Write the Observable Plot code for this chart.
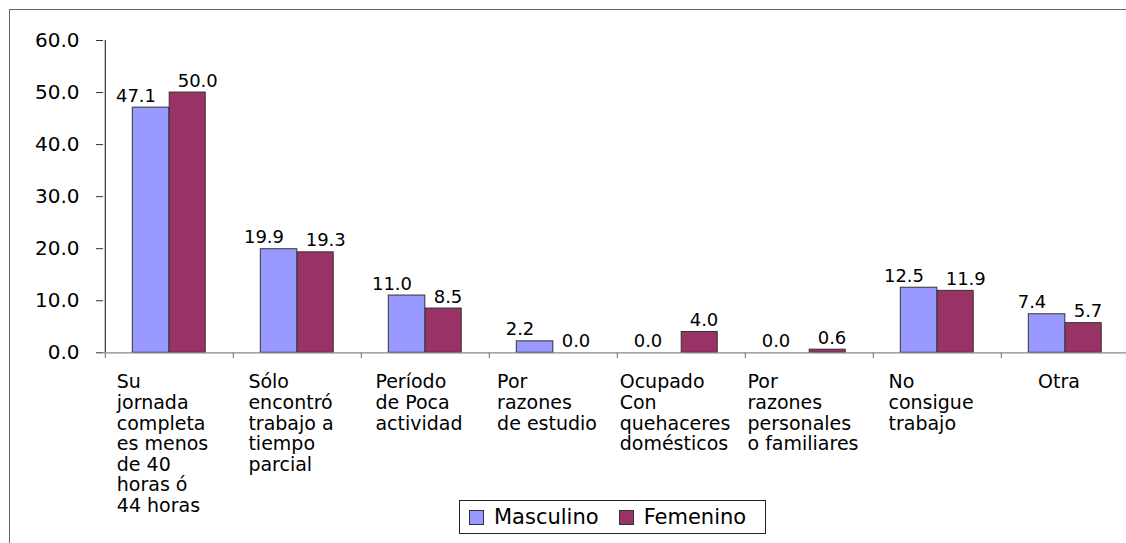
<!DOCTYPE html>
<html>
<head>
<meta charset="utf-8">
<script src="https://cdn.jsdelivr.net/npm/d3@7"></script>
<script src="https://cdn.jsdelivr.net/npm/@observablehq/plot@0.6"></script>
<style>
  html, body { margin: 0; padding: 0; background: #fff; overflow: hidden; }
  #wrap { position: relative; width: 1126px; height: 543px; overflow: hidden; font-family: "DejaVu Sans", sans-serif; }
  #frame { position: absolute; left: 9px; top: 9px; width: 1300px; height: 700px; border: 1px solid #666; pointer-events: none; }
  #legend { position: absolute; left: 459px; top: 500px; width: 305px; height: 32px; border: 1.5px solid #222; background: #fff;
            display: flex; align-items: center; font-size: 21px; color: #000; box-sizing: content-box; }
  #legend .item { display: flex; align-items: center; margin-left: 9px; margin-right: 11px; }
  #legend .sw { display: inline-block; width: 13px; height: 13px; border: 1px solid #333; margin-right: 10px; }
</style>
</head>
<body>
<div id="wrap">
  <div id="chart"></div>
  <div id="legend"></div>
  <div id="frame"></div>
</div>
<script>
// ---- data ----
const categories = [
  "Su\njornada\ncompleta\nes menos\nde 40\nhoras ó\n44 horas",
  "Sólo\nencontró\ntrabajo a\ntiempo\nparcial",
  "Período\nde Poca\nactividad",
  "Por\nrazones\nde estudio",
  "Ocupado\nCon\nquehaceres\ndomésticos",
  "Por\nrazones\npersonales\no familiares",
  "No\nconsigue\ntrabajo",
  "Otra"
];
const masculino = [47.1, 19.9, 11.0, 2.2, 0.0, 0.0, 12.5, 7.4];
const femenino  = [50.0, 19.3, 8.5, 0.0, 4.0, 0.6, 11.9, 5.7];
const seriesNames = ["Masculino", "Femenino"];
const seriesColors = ["#9999FF", "#993366"];
const yTicks = [0, 10, 20, 30, 40, 50, 60];

// ---- build ----
const mData = categories.map((c, i) => ({cat: c, value: masculino[i]}));
const fData = categories.map((c, i) => ({cat: c, value: femenino[i]}));
const fmt = d3.format(".1f");

const W = 1130, H = 543, mL = 103, mT = 40, y0px = 352.3;
const band = (W - mL) / categories.length;

const chart = Plot.plot({
  width: W,
  height: H,
  marginLeft: mL,
  marginRight: 0,
  marginTop: mT,
  marginBottom: H - y0px,
  style: {fontFamily: "DejaVu Sans", fontSize: "19px", color: "#000", background: "transparent", maxWidth: "none", overflow: "visible"},
  x: {domain: categories, padding: 0, axis: null},
  y: {domain: [0, 60], axis: null},
  marks: [
    Plot.barY(mData.filter(d => d.value > 0), {x: "cat", y: "value", fill: seriesColors[0], stroke: "#333", strokeWidth: 1, insetLeft: 27.3, insetRight: band - 64.2}),
    Plot.barY(fData.filter(d => d.value > 0), {x: "cat", y: "value", fill: seriesColors[1], stroke: "#333", strokeWidth: 1, insetLeft: 64.2, insetRight: band - 100.6}),
    Plot.ruleY([0], {stroke: "#888", strokeWidth: 1.2}),
    Plot.ruleX([categories[0]], {x: d => d, dx: -band / 2, y1: 0, y2: 60, stroke: "#333", strokeWidth: 1.2}),
    Plot.ruleX(categories, {x: d => d, dx: -band / 2, y1: 0, y2: 0, insetBottom: -6, stroke: "#888", strokeWidth: 1.2}),
    Plot.axisY({ticks: yTicks, tickFormat: fmt, tickSize: 7, tickPadding: 17, fontSize: 20, stroke: "#333", label: null}),
    Plot.text(mData, {x: "cat", y: "value", text: d => fmt(d.value), dx: -33.5, dy: -6, lineAnchor: "bottom", textAnchor: "middle", fontSize: 18, fill: "#000"}),
    Plot.text(fData, {x: "cat", y: "value", text: d => fmt(d.value), dx: 8.2, dy: -6, lineAnchor: "bottom", textAnchor: "start", fontSize: 18, fill: "#000"}),
    Plot.text(categories, {x: d => d, y: 0, text: d => d, lineAnchor: "top", textAnchor: "start", dy: 20.9, fontSize: 19, lineHeight: 20.6 / 19, fill: "#000"})
  ]
});
document.getElementById("chart").appendChild(chart);

// center each wrapped label block (lines left-aligned) under its category, like the source
const flatLabels = new Set(categories.map(c => c.replace(/\n/g, "")));
chart.querySelectorAll("text").forEach(t => {
  if (!flatLabels.has(t.textContent)) return;
  const w = t.getBBox().width;
  const shift = -w / 2 - 6.5;
  const tr = t.getAttribute("transform");
  if (tr) {
    t.setAttribute("transform", tr + ` translate(${shift.toFixed(1)},0)`);
  } else {
    const x = parseFloat(t.getAttribute("x") || "0");
    t.setAttribute("x", (x + shift).toFixed(1));
    t.querySelectorAll("tspan[x]").forEach(s => s.setAttribute("x", (x + shift).toFixed(1)));
  }
});

// legend
const legend = document.getElementById("legend");
seriesNames.forEach((name, i) => {
  const item = document.createElement("span");
  item.className = "item";
  const sw = document.createElement("span");
  sw.className = "sw";
  sw.style.background = seriesColors[i];
  item.appendChild(sw);
  item.appendChild(document.createTextNode(name));
  legend.appendChild(item);
});
</script>
</body>
</html>
